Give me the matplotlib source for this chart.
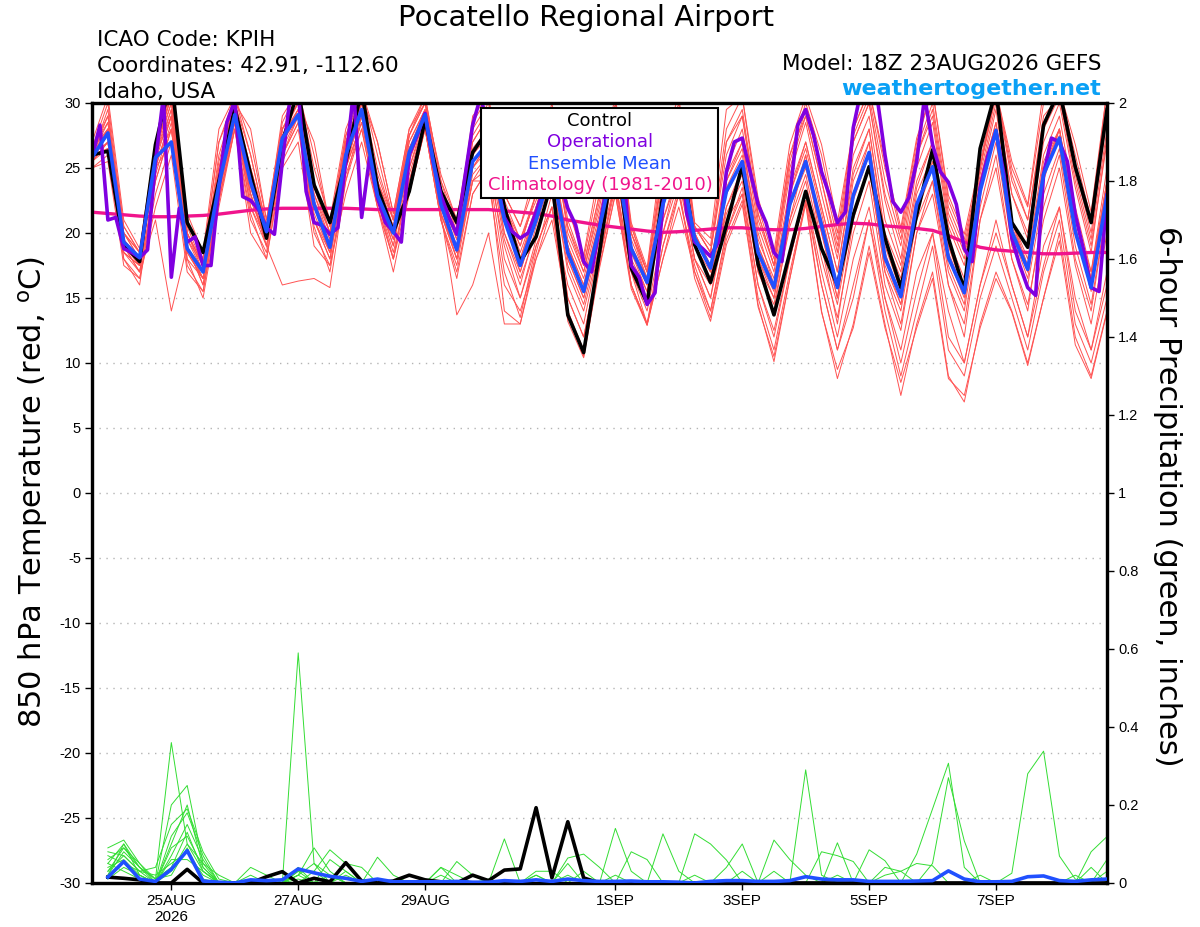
import pandas as pd
import matplotlib
matplotlib.use("Agg")
import matplotlib.pyplot as plt
from matplotlib.patches import Rectangle

plt.rcParams['font.family'] = ['Liberation Sans', 'DejaVu Sans']
plt.rcParams['axes.unicode_minus'] = False
WIDE = ['DejaVu Sans']   # header/labels are drawn in a wide sans in the original

# forecast run start, everything on the x axis is hours after this
run_start = pd.Timestamp("2026-08-23 18:00")
hours_6 = list(range(0, 385, 6))      # temps, 6-hourly
hours_3 = list(range(0, 385, 3))      # operational run, 3-hourly
hours_pcp = list(range(6, 385, 6))    # 6-hour precip totals

tick_dates = ["2026-08-25", "2026-08-27", "2026-08-29", "2026-09-01",
              "2026-09-03", "2026-09-05", "2026-09-07"]
tick_labels = ["25AUG\n2026", "27AUG", "29AUG", "1SEP", "3SEP", "5SEP", "7SEP"]

# 850 hPa temperature (C)
control = [26.0, 26.3, 19.1, 17.8, 26.8, 32, 20.8, 18.5, 24.0, 29.6, 24.5, 19.6, 27.0,
           31, 23.7, 20.8, 25.5, 31, 23.5, 20.1, 23.2, 28.7, 23.2, 20.8, 26.2, 28,
           22, 17.8, 19.7, 24, 13.7, 10.8, 18.5, 27, 17.3, 14.6, 23, 27, 19.1, 16.2,
           20.6, 25.2, 17.6, 13.7, 18.5, 23.2, 18.8, 16.0, 21.4, 25.1, 19.6, 15.8, 21.4,
           26.4, 19.6, 15.6, 26.5, 31, 20.8, 18.9, 28.3, 31, 25.1, 20.8, 29.5]

ens_mean = [25.8, 27.7, 19.3, 18.1, 25.8, 27.0, 18.8, 17.0, 23.7, 29.1, 23.9, 20.1, 27.3,
            29.1, 22.2, 18.9, 26.0, 29.5, 22.9, 20.0, 26.2, 29.1, 22.2, 18.7, 25.5, 27,
            21, 17.5, 21, 25, 18.5, 15.5, 20.4, 26, 18.8, 16.2, 22.2, 26, 19.6, 17.3,
            23.2, 25.5, 18.5, 15.8, 22.2, 25.5, 20.6, 15.8, 22.9, 26.2, 18.1, 15.1, 22.2,
            25.1, 18.1, 15.4, 23.2, 27.9, 20.1, 17.2, 24.5, 27.3, 20.1, 15.8, 22.9]

operational = [25.8, 28.3, 21.0, 21.2, 18.8, 18.5, 18.1, 18.7, 25.5, 30.5, 16.6, 21.9, 19.3,
               19.7, 17.5, 17.5, 23.5, 28.5, 30.2, 22.8, 22.5, 21.8, 20.4, 19.9, 25.5, 30.5,
               31, 23.2, 20.8, 20.6, 19.9, 20.4, 25.5, 31, 21.2, 25.8, 22.7, 20.8, 20.1,
               19.3, 26.0, 27.5, 29.2, 25.5, 22.9, 21.2, 19.9, 24.2, 28.3, 30.5, 28, 24,
               21.2, 20.1, 19.6, 20.0, 21.6, 23.5, 26, 24, 21.9, 20.6, 17.8, 17.0, 20.4,
               24, 27, 25, 17.5, 16.6, 14.5, 15.4, 22.2, 26, 28, 21.5, 19.3, 18.8, 18.2,
               19.3, 24.7, 27.0, 27.3, 24.7, 22.2, 20.8, 18.5, 17.8, 22.9, 28.3, 29.5, 27.5,
               24.7, 22.9, 20.8, 21.6, 28.1, 31, 32, 30.5, 26.0, 22.4, 21.6, 22.7, 25.5,
               30.5, 26.8, 24.7, 23.9, 22.2, 18.8, 17.8, 23.5, 26.0, 27.8, 24.5, 19.6, 17.5,
               15.8, 15.2, 24.5, 27.3, 27.0, 25.5, 21.4, 18.8, 15.8, 15.5, 22.9]

climatology = [21.6, 21.5, 21.4, 21.3, 21.25, 21.25, 21.3, 21.35, 21.45, 21.6, 21.75, 21.85,
               21.9, 21.9, 21.9, 21.9, 21.9, 21.85, 21.8, 21.8, 21.8, 21.8, 21.8, 21.8, 21.8,
               21.8, 21.7, 21.6, 21.5, 21.3, 21.0, 20.8, 20.6, 20.45, 20.3, 20.15, 20.05,
               20.1, 20.2, 20.3, 20.4, 20.4, 20.3, 20.25, 20.25, 20.35, 20.5, 20.65, 20.75,
               20.7, 20.55, 20.45, 20.35, 20.2, 19.8, 19.3, 18.9, 18.7, 18.6, 18.5, 18.4,
               18.4, 18.45, 18.5, 18.5]

# ensemble members (red)
mem01 = [26.5, 30, 20.5, 18.5, 27, 31, 21, 18, 27, 30.5, 27, 21, 28.5, 31, 26, 20.5, 27.5,
         31, 26, 21, 27.5, 30.5, 24, 21, 28.5, 30.5, 23, 20.5, 24, 29, 22, 18, 24, 30, 20.5,
         17, 26, 30, 20.5, 19, 28, 30.5, 22, 18, 26, 30, 26, 20, 28, 31, 25, 20, 27, 31,
         22.5, 19.5, 25, 31, 25, 22, 30, 31, 26, 21, 31]
mem02 = [25, 25.5, 17.5, 16.5, 22, 26, 17, 15.5, 22.5, 28, 20, 18, 25, 27, 19, 17.5, 23,
         27, 22, 18, 23, 28, 21, 17, 23, 25, 19, 15, 19, 22, 16, 13, 19, 24, 17, 14, 20,
         24, 18, 15, 21, 23, 16, 12, 18, 23, 17, 12, 18, 22, 15, 11, 17, 20, 14, 10, 16,
         21, 16, 12, 19, 22, 15, 11, 17]
mem03 = [26, 27, 19, 17, 21, 14, 19, 16.5, 24, 29, 23, 19, 16, 16.3, 16.5, 15.8, 24, 29,
         23, 19, 26, 29, 22, 20, 26, 28, 21, 18, 22, 26, 19, 16, 21, 27, 19, 16, 23, 27,
         20, 17, 24, 27, 20, 16, 23, 27, 22, 17, 25, 28, 20, 17, 24, 27, 19, 16, 23, 28,
         21, 17, 24, 28, 21, 17, 24]
mem04 = [25.5, 28, 20, 18, 25, 29, 20, 17.5, 23, 29, 24, 20, 27, 29, 22, 19, 26, 29, 23,
         20, 25, 28.5, 21.5, 13.7, 16, 20, 13, 13, 18, 22, 14, 11, 18, 24, 16, 13, 20, 25,
         18, 15, 22, 25, 17, 14, 21, 26, 19, 13, 21, 25, 17, 13, 20, 24, 16, 12, 21, 26,
         18, 14, 22, 26, 18, 14, 22]
mem05 = [26, 28.5, 19.5, 18, 26.5, 30, 19.5, 17.5, 25, 29.5, 25, 20.5, 28, 30, 23, 19.5,
         27, 30, 24, 20.5, 27, 29.5, 23, 19.5, 26.5, 28, 22, 18.5, 22, 26, 19.5, 16.5, 21.5,
         27, 19.5, 16.5, 23, 27, 20, 17.5, 24.5, 27, 19.5, 16.5, 23.5, 27, 22, 17, 24.5,
         28, 19.5, 16.5, 23.5, 27, 19.5, 16.5, 24, 29.5, 21, 18, 26, 29, 22, 17, 25]
mem06 = [25.5, 27, 18.5, 17.5, 25, 27, 18, 16.5, 23.5, 29, 23, 19.5, 27, 29, 21.5, 18.5,
         25.5, 29, 22.5, 19.5, 25.5, 29, 21.5, 18, 25, 26.5, 20, 16.5, 20, 24, 17.5, 14.5,
         19.5, 25, 18, 15.5, 21, 25, 19, 16.5, 22, 24.5, 17.5, 15, 21, 24.5, 19, 14.5, 21.5,
         25, 17, 14, 21, 24, 17, 14, 22, 27, 19, 16, 23, 26.5, 19, 14.5, 22]
mem07 = [26, 29, 20, 18.5, 26, 31, 20, 17.5, 26, 30, 26, 20.5, 28, 30.5, 24, 20, 27, 30.5,
         25, 21, 27.5, 30, 23.5, 20.5, 27.5, 29.5, 22.5, 19.5, 23, 28, 21, 17.5, 23, 29,
         20.5, 17, 25, 29, 20.5, 18.5, 27, 29.5, 21.5, 17.5, 25.5, 29.5, 25, 19.5, 27.5,
         30.5, 24, 19.5, 26.5, 30, 22, 19, 25, 31, 24, 21, 29, 30.5, 25, 20, 29]
mem08 = [25.5, 26.5, 19, 17, 24, 28, 19, 16, 23, 28.5, 23, 19, 26, 29, 21, 18, 25, 28.5,
         22.5, 18.5, 24, 28.5, 22, 18.5, 24, 26, 18, 15, 19.5, 24, 15, 12, 18, 24, 17, 13,
         19, 23, 17, 14, 20, 23, 15, 11, 17, 22.5, 14, 8.8, 13, 19, 13, 7.5, 13, 17, 9, 7,
         13, 17, 14, 10, 15, 20, 12, 9, 14]
mem09 = [26, 27.5, 19, 18, 26, 29, 18.5, 16.5, 24, 29, 22, 19.5, 27, 29.5, 22, 19, 26, 30,
         22.5, 20, 26.5, 29, 22, 19, 25, 27, 21, 17, 21, 25, 18, 15, 20, 26, 18.5, 16, 22,
         26, 19, 17, 23, 25.5, 18, 15.5, 22, 26, 20, 15, 23, 27, 17.5, 14.5, 22, 25, 18,
         15, 24, 28.5, 20, 17, 25, 28, 20.5, 16, 23]
mem10 = [26.5, 28, 20, 18.5, 26.5, 30.5, 21, 18, 27, 30, 28, 21, 28, 30, 27, 20.5, 27.5,
         30.5, 27, 21.5, 28, 30, 24.5, 21, 28, 30, 23, 20.5, 25, 30, 22, 18.3, 25, 30.5,
         20.8, 17.3, 27, 30.5, 20.8, 19.6, 29.5, 30.5, 22.7, 18.5, 26.8, 30.5, 26.8, 20.8,
         28, 31, 25.5, 20.4, 27.3, 31, 22.9, 19.9, 25.5, 31, 25.5, 22.2, 31, 31, 26.8,
         21.6, 31]
mem11 = [25, 26, 18, 16.5, 23, 27, 17.5, 15.5, 22.5, 28, 21, 18.5, 26, 28.5, 20, 17.5, 24,
         28, 22, 17, 23, 28, 21, 17.5, 24, 24, 16, 14, 18, 21, 14, 10.5, 17.5, 23, 16, 13,
         18, 22, 17, 13.5, 19.5, 22.5, 14.5, 10.1, 16.5, 22.5, 16, 11, 15, 21, 14, 9, 14,
         19, 11, 9, 15, 19, 15, 11, 17, 21, 13, 10, 15]
mem12 = [26, 28, 19.5, 17.5, 25.5, 29.5, 20, 17, 24.5, 29.5, 24, 20, 27.5, 29.5, 22.5,
         19.5, 26.5, 29.5, 23.5, 20.5, 26.5, 29.5, 22.5, 19, 26, 28, 21.5, 18, 21.5, 26, 19,
         16, 21, 26.5, 19, 16.5, 22.5, 26.5, 19.5, 17.5, 23.5, 26, 19, 16, 22.5, 25.5, 21,
         16, 23, 26, 18.5, 15, 22, 25.5, 18.5, 15.5, 23, 28, 20.5, 17.5, 25, 27.5, 21, 16.5,
         24]
mem13 = [25.5, 27, 18, 16, 24.5, 28.5, 18, 15, 22, 28, 21.5, 18, 25.5, 28, 20.5, 17, 24.5,
         28, 22, 18, 24, 28, 21, 16.5, 23, 25, 17, 13.5, 19, 22, 13.2, 10.4, 17.3, 23, 15.7,
         12.9, 19, 23.5, 16.5, 13.2, 19.1, 22.2, 14.3, 10.5, 16.5, 22.2, 13.9, 9.5, 12.7,
         18.5, 12.7, 8.5, 12.7, 16.5, 8.8, 7.5, 12.7, 16.5, 13.9, 9.8, 15, 19.4, 11.4, 8.8,
         13.9]
mem14 = [27, 30.5, 21, 18.8, 27, 31, 21.5, 18.5, 28, 30.5, 26, 20.5, 29, 31, 25, 21, 28,
         31, 27, 21.5, 28, 30.5, 24, 20, 29, 30.5, 22, 19, 23, 28, 20, 17, 22, 28, 20, 16.5,
         24, 28, 20, 17.5, 25, 28, 20.5, 17, 24.5, 28.5, 23, 18, 26, 29, 21, 17.5, 25, 28.5,
         20.5, 17.5, 24.5, 30, 23, 19.5, 27, 30, 23.5, 18.5, 27.5]
mem15 = [26, 26.5, 18.5, 17.5, 25.5, 28, 18.5, 16.5, 23, 29, 22.5, 19.5, 26.5, 29, 21, 18.5,
         25, 29.5, 22.5, 19, 25, 29, 21.5, 18.5, 24.5, 26, 19.5, 16, 20.5, 24.5, 17, 14, 19,
         25, 17.5, 15, 21, 24.5, 18, 16, 21.5, 24, 17, 14.5, 20.5, 24, 18, 13.5, 20, 24, 16,
         12.5, 20, 23, 16, 13, 21, 25, 18, 14.5, 21, 25, 17.5, 13, 20]
mem16 = [26, 29.5, 20, 18, 26.5, 30.5, 20.5, 17.5, 25.5, 30, 25, 20.5, 27.5, 30, 23.5, 20,
         27, 30, 24.5, 21, 27.5, 30, 23, 20, 27, 29, 22, 19.5, 22.5, 27, 20.5, 17, 22.5, 28,
         20, 17, 24.5, 28.5, 20.5, 18.5, 26, 29, 21, 17.5, 25, 29, 24, 19, 27, 30, 23, 19,
         26, 29.5, 21.5, 18.5, 25, 31, 24.5, 21, 28.5, 31, 24.5, 19.5, 28]
mem17 = [25.5, 27, 18.5, 17, 24, 28, 19, 16, 22.5, 28.5, 22, 19, 26, 28.5, 21, 18, 25, 28.5,
         22.5, 18, 24.5, 28.5, 21.5, 18, 24, 25, 14, 13, 18.5, 23, 15, 12, 18, 23.5, 16, 12.9,
         18, 23, 17.5, 14, 20, 23.5, 16, 12.5, 18, 23, 16, 11, 16, 21, 15, 10, 15.5, 20, 12,
         10, 16, 20, 16, 12, 17.5, 22, 14, 11, 16]
mem18 = [26.5, 28.5, 19.5, 18, 26, 29.5, 19.5, 17, 24.5, 29.5, 23.5, 20, 27.5, 29.5, 22.5,
         19, 26.5, 30, 23, 20, 26.5, 29, 22.5, 19.5, 26, 27.5, 21.5, 17.5, 22, 25.5, 19,
         15.5, 21, 26.5, 19, 16, 22.5, 26.5, 20, 17, 24, 26.5, 19, 16, 23, 26.5, 21.5, 16, 24,
         27, 19, 15.5, 23, 26, 19, 15.5, 24, 28.5, 21, 17.5, 25.5, 28, 21.5, 16.5, 24]
mem19 = [26, 28, 19, 17.5, 25, 29, 19, 16.5, 24, 29, 23.5, 19.5, 27, 29, 22, 18.5, 26, 29.5,
         23, 19.5, 26, 29, 22, 18, 25, 27, 20, 17, 21, 25, 18, 15, 20, 26, 18.5, 15.5, 22, 26,
         19, 16.5, 23, 25.5, 18, 15, 22, 25, 20, 15, 22.5, 26, 18, 14.5, 21.5, 25, 17.5, 14.5,
         23, 28, 20, 16.5, 24.5, 28, 20.5, 15.5, 23.5]
mem20 = [26.5, 29, 20.5, 18.5, 26, 30, 20, 17.5, 25, 30, 24.5, 20.5, 28, 30, 23, 20, 27, 30,
         24, 21, 27, 29.5, 23, 20, 27, 29, 22, 19, 23, 27.5, 20.5, 17.5, 23, 28.5, 20, 17,
         25, 29, 20.5, 18.5, 27, 29, 21.5, 17.5, 26, 29, 24, 18.5, 27, 30, 22.5, 18, 26, 29,
         21, 18, 25, 30.5, 23, 20, 28, 30.5, 24, 19, 27]
members = [mem01, mem02, mem03, mem04, mem05, mem06, mem07, mem08, mem09, mem10,
           mem11, mem12, mem13, mem14, mem15, mem16, mem17, mem18, mem19, mem20]

# 6-hour precip (inches)
pcp_control = [0.015, 0.012, 0.008, 0, 0, 0.035, 0, 0, 0, 0, 0.016, 0.029, 0, 0.012, 0.003,
               0.052, 0.005, 0, 0.005, 0.02, 0.008, 0.003, 0, 0.02, 0.006, 0.033, 0.036,
               0.193, 0.013, 0.157, 0.013, 0, 0, 0, 0, 0, 0, 0, 0, 0, 0, 0, 0, 0, 0, 0, 0,
               0, 0, 0, 0, 0, 0, 0, 0, 0, 0, 0, 0, 0, 0, 0, 0, 0]
pcp_mean = [0.015, 0.055, 0.01, 0.004, 0.035, 0.083, 0.005, 0.002, 0, 0.008, 0.006, 0.008,
            0.036, 0.026, 0.017, 0.012, 0.004, 0.01, 0.003, 0.003, 0.003, 0.003, 0.004,
            0.002, 0.002, 0.006, 0.004, 0.008, 0.004, 0.01, 0.006, 0.004, 0.004, 0.005,
            0.003, 0.003, 0.002, 0, 0.004, 0.006, 0.006, 0.004, 0.004, 0.006, 0.016, 0.01,
            0.008, 0.008, 0.004, 0.004, 0.004, 0.005, 0.006, 0.031, 0.01, 0.003, 0.003,
            0.004, 0.016, 0.018, 0.006, 0.004, 0.008, 0.01]

pcp01 = [0.09, 0.11, 0.05, 0.01, 0.36, 0.10, 0.03, 0, 0, 0, 0, 0, 0.02, 0.09, 0.03, 0,
         0, 0, 0, 0, 0, 0.04, 0.02, 0, 0, 0, 0, 0.02, 0, 0, 0, 0, 0.14, 0.03, 0, 0,
         0, 0, 0, 0, 0, 0, 0.11, 0.06, 0.02, 0, 0, 0, 0, 0, 0, 0, 0, 0, 0, 0,
         0, 0, 0, 0, 0, 0, 0, 0.06]
pcp02 = [0.06, 0.09, 0.04, 0, 0.2, 0.25, 0.05, 0, 0, 0.04, 0.02, 0, 0.59, 0.05, 0.02, 0,
         0, 0, 0, 0, 0, 0, 0.055, 0.02, 0, 0, 0, 0, 0, 0.064, 0.074, 0.04, 0, 0, 0, 0,
         0, 0, 0, 0, 0, 0, 0, 0, 0.29, 0.02, 0, 0, 0, 0, 0, 0, 0, 0, 0, 0,
         0, 0.025, 0.28, 0.338, 0.069, 0.01, 0, 0]
pcp03 = [0.03, 0.07, 0.03, 0.04, 0.15, 0.19, 0.08, 0.01, 0, 0, 0, 0, 0.03, 0.03, 0.085, 0.05,
         0.04, 0, 0, 0, 0, 0, 0, 0, 0, 0.113, 0, 0, 0, 0, 0, 0, 0, 0, 0, 0.126,
         0.03, 0, 0, 0, 0, 0, 0, 0, 0, 0, 0.103, 0, 0, 0, 0, 0.074, 0.19, 0.307, 0.04, 0,
         0, 0, 0, 0, 0, 0, 0.08, 0.119]
pcp04 = [0.05, 0.10, 0.02, 0, 0.07, 0.15, 0.06, 0, 0, 0, 0, 0, 0.01, 0, 0.06, 0.03,
         0, 0.066, 0.02, 0, 0, 0, 0, 0, 0, 0, 0, 0.03, 0.03, 0, 0, 0, 0, 0.08, 0.06, 0,
         0, 0.126, 0.10, 0.059, 0, 0, 0, 0, 0, 0, 0, 0, 0.085, 0.057, 0, 0, 0, 0, 0, 0,
         0, 0, 0, 0, 0, 0, 0, 0]
pcp05 = [0.02, 0.08, 0.04, 0.01, 0.04, 0.13, 0.03, 0, 0, 0, 0, 0, 0.04, 0, 0, 0,
         0, 0, 0, 0.02, 0.01, 0, 0, 0, 0, 0, 0, 0, 0, 0, 0.03, 0, 0, 0, 0, 0,
         0, 0, 0, 0.04, 0.10, 0, 0, 0, 0, 0.08, 0.07, 0.055, 0, 0, 0, 0, 0.05, 0.27, 0.108, 0,
         0, 0, 0, 0, 0, 0.02, 0, 0]
pcp06 = [0.04, 0.06, 0.02, 0, 0.10, 0.20, 0.04, 0, 0, 0, 0, 0, 0.02, 0.05, 0, 0.03,
         0, 0, 0, 0, 0, 0, 0, 0, 0, 0, 0, 0, 0, 0.05, 0, 0, 0.02, 0, 0, 0,
         0, 0.02, 0, 0, 0.03, 0, 0, 0, 0, 0, 0, 0, 0, 0.02, 0.03, 0.05, 0.044, 0, 0, 0.02,
         0, 0, 0, 0, 0, 0, 0.04, 0]
pcp07 = [0.07, 0.05, 0.03, 0.02, 0.05, 0.08, 0.02, 0, 0, 0, 0, 0, 0, 0, 0, 0,
         0, 0, 0, 0, 0, 0, 0, 0, 0, 0, 0, 0, 0, 0, 0, 0, 0, 0, 0, 0,
         0, 0, 0, 0, 0, 0, 0.03, 0, 0, 0, 0, 0, 0, 0, 0, 0, 0, 0, 0, 0,
         0, 0, 0, 0, 0, 0, 0, 0.03]
pcp08 = [0.01, 0.04, 0.02, 0, 0.03, 0.10, 0.05, 0.02, 0, 0, 0, 0, 0.03, 0, 0, 0,
         0, 0, 0, 0, 0, 0.04, 0, 0, 0.01, 0, 0, 0, 0, 0, 0, 0, 0, 0, 0, 0,
         0, 0, 0, 0, 0, 0, 0, 0, 0, 0, 0, 0, 0, 0, 0, 0, 0, 0, 0, 0,
         0, 0, 0, 0, 0, 0, 0, 0]
pcp09 = [0.03, 0.09, 0.05, 0, 0.12, 0.18, 0.07, 0, 0, 0, 0, 0, 0, 0.03, 0, 0,
         0, 0, 0, 0, 0, 0, 0, 0, 0, 0, 0, 0.02, 0, 0, 0, 0, 0, 0, 0, 0,
         0, 0, 0, 0, 0, 0, 0, 0, 0, 0, 0.02, 0, 0, 0, 0, 0, 0, 0, 0, 0,
         0, 0, 0, 0, 0, 0, 0, 0]
pcp10 = [0.08, 0.07, 0.03, 0, 0.06, 0.06, 0.03, 0, 0, 0, 0, 0, 0.02, 0, 0, 0.02,
         0, 0, 0, 0, 0, 0.02, 0, 0, 0, 0, 0, 0, 0, 0, 0, 0, 0, 0, 0, 0,
         0, 0, 0, 0, 0, 0, 0, 0, 0, 0, 0, 0, 0, 0, 0, 0, 0, 0, 0, 0,
         0, 0, 0, 0, 0, 0, 0, 0]
pcp11 = [0.05, 0.03, 0.01, 0, 0.09, 0.12, 0.04, 0, 0, 0.02, 0, 0, 0, 0, 0.02, 0,
         0, 0, 0, 0, 0, 0, 0, 0, 0, 0, 0, 0, 0, 0, 0, 0, 0, 0, 0, 0,
         0, 0, 0, 0, 0, 0, 0, 0, 0, 0, 0, 0, 0, 0, 0, 0, 0, 0, 0, 0,
         0, 0, 0, 0, 0, 0, 0, 0]
pcp12 = [0.02, 0.10, 0.04, 0.01, 0.02, 0.09, 0.01, 0, 0, 0, 0, 0, 0, 0, 0, 0,
         0, 0, 0, 0, 0, 0, 0, 0, 0, 0, 0, 0, 0, 0.02, 0, 0, 0, 0, 0, 0,
         0, 0, 0, 0, 0, 0, 0, 0, 0, 0, 0, 0, 0, 0.04, 0.03, 0, 0, 0, 0, 0,
         0, 0, 0, 0, 0, 0, 0, 0]
pcp_members = [pcp01, pcp02, pcp03, pcp04, pcp05, pcp06, pcp07, pcp08, pcp09, pcp10,
               pcp11, pcp12]

tick_hours = [(pd.Timestamp(d) - run_start) / pd.Timedelta(hours=1) for d in tick_dates]

fig = plt.figure(figsize=(12, 9.27), dpi=100)
ax = fig.add_axes([0.0767, 0.0475, 0.8458, 0.8414])
ax2 = ax.twinx()

# dotted grid at every 5 C
for t in range(-25, 30, 5):
    ax.axhline(t, color="#b4b4b4", lw=1, ls=(0, (1, 4)), zorder=1)

for m in members:
    ax.plot(hours_6, m, color="#ff5252", lw=0.7, zorder=2)
ax.plot(hours_6, climatology, color="#f0148c", lw=2.4, zorder=3)
ax.plot(hours_6, control, color="black", lw=2.6, zorder=4)
ax.plot(hours_3, operational, color="#8000e0", lw=2.6, zorder=5)
ax.plot(hours_6, ens_mean, color="#2050ff", lw=2.6, zorder=6)

for p in pcp_members:
    ax2.plot(hours_pcp, p, color="#33dd33", lw=0.7, zorder=2)
ax2.plot(hours_pcp, pcp_control, color="black", lw=2.6, zorder=4)
ax2.plot(hours_pcp, pcp_mean, color="#2050ff", lw=2.6, zorder=5)

ax.set_xlim(0, 384)
ax.set_ylim(-30, 30)
ax2.set_ylim(0, 2)

ax.set_yticks(range(-30, 31, 5))
ax.set_xticks(tick_hours)
ax.set_xticklabels(tick_labels)
ax2.set_yticks([i * 0.2 for i in range(11)])
ax2.set_yticklabels(["%g" % round(i * 0.2, 1) for i in range(11)])

ax.tick_params(axis="y", direction="out", length=5, width=1, labelsize=10.5, pad=3)
ax.tick_params(axis="x", direction="out", length=5, width=1, labelsize=11, pad=3)
ax2.tick_params(axis="y", direction="out", length=5, width=1, labelsize=10.5, pad=3)
for a in (ax, ax2):
    for s in a.spines.values():
        s.set_linewidth(2.3)

# header text
fig.text(0.488, 0.9806, "Pocatello Regional Airport", ha="center", va="center",
         fontsize=21, family=WIDE)
fig.text(0.0808, 0.957, "ICAO Code: KPIH", ha="left", va="center", fontsize=15.5, family=WIDE)
fig.text(0.0808, 0.9288, "Coordinates: 42.91, -112.60", ha="left", va="center",
         fontsize=15.5, family=WIDE)
fig.text(0.0808, 0.9008, "Idaho, USA", ha="left", va="center", fontsize=15.5, family=WIDE)
fig.text(0.9175, 0.931, "Model: 18Z 23AUG2026 GEFS", ha="right", va="center",
         fontsize=15.5, family=WIDE)
fig.text(0.9175, 0.904, "weathertogether.net", ha="right", va="center", fontsize=16,
         fontweight="bold", color="#0aa0f5", family=WIDE)

fig.text(0.0275, 0.469, "850 hPa Temperature (red, $^{\\mathrm{o}}$C)", rotation=90,
         ha="center", va="center", fontsize=22, family=WIDE)
fig.text(0.9733, 0.465, "6-hour Precipitation (green, inches)", rotation=270,
         ha="center", va="center", fontsize=22, family=WIDE)

# legend box
box = Rectangle((481 / 1200, 1 - 198 / 927), 237 / 1200, 90 / 927, transform=fig.transFigure,
                facecolor="white", edgecolor="black", lw=1.5, zorder=5)
fig.add_artist(box)
legend_items = [("Control", "black"), ("Operational", "#8000e0"),
                ("Ensemble Mean", "#2050ff"), ("Climatology (1981-2010)", "#f0148c")]
for k, (name, col) in enumerate(legend_items):
    fig.text(600 / 1200, 1 - (121 + 21.3 * k) / 927, name, color=col, ha="center",
             va="center", fontsize=13, zorder=6, family=WIDE)

fig.savefig("out.png", dpi=100)
